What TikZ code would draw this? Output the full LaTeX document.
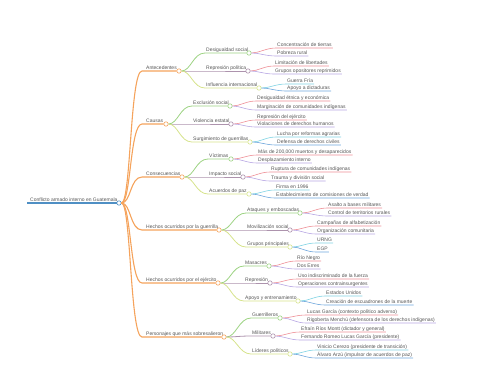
\documentclass[tikz,border=0pt]{standalone}
\usepackage{fontspec}
\setmainfont{Liberation Sans}
\usepackage{tikz}
\usetikzlibrary{positioning}
\definecolor{tgray}{HTML}{555555}
\definecolor{mblue}{HTML}{4f8fc4}
\definecolor{morange}{HTML}{f5a35c}
\definecolor{mgreen}{HTML}{9dd383}
\definecolor{mmauve}{HTML}{ad93ad}
\definecolor{myellow}{HTML}{d6e38c}
\definecolor{mpink}{HTML}{ee8f96}
\definecolor{mlav}{HTML}{b7a6e3}
\definecolor{mcyan}{HTML}{7fd3e3}
\definecolor{mdblue}{HTML}{6ea6dc}

\begin{document}
\begin{tikzpicture}[
  x=1pt, y=-1pt,
  lbl/.style={anchor=south west, inner xsep=1pt, inner ysep=0.5pt,
              text depth=1.2pt, text=tgray, font=\fontsize{5}{6}\selectfont},
  toplbl/.style={lbl, inner xsep=4pt},
  dot/.style={circle, draw=#1, fill=white, line width=0.6pt,
              minimum size=4.4pt, inner sep=0pt},
  lroot/.style={draw=mblue, line width=1.6pt},
  lone/.style={draw=morange, line width=1.1pt},
  ltwo/.style={draw=#1, line width=0.8pt},
  leaf/.style={draw=#1, line width=0.6pt},
]
  \useasboundingbox (0,0) rectangle (480,384);

  % root
  \node[lbl, inner xsep=3pt] (root) at (27,203) {Conflicto armado interno en Guatemala};
  \node[dot=mblue] (rootc) at (119,203) {};
  \draw[lroot] (root.south west) -- (rootc);

  % first level
  \node[toplbl] (ant) at (142,71)  {Antecedentes};
  \node[toplbl] (cau) at (142,124) {Causas};
  \node[toplbl] (con) at (142,177) {Consecuencias};
  \node[toplbl] (gue) at (142,230) {Hechos ocurridos por la guerrilla};
  \node[toplbl] (eje) at (142,283) {Hechos ocurridos por el ejército};
  \node[toplbl] (per) at (142,337) {Personajes que más sobresalieron};
  \node[dot=morange] (antc) at (179,71)  {};
  \node[dot=morange] (cauc) at (166,124) {};
  \node[dot=morange] (conc) at (182,177) {};
  \node[dot=morange] (guec) at (219,230) {};
  \node[dot=morange] (ejec) at (218,283) {};
  \node[dot=morange] (perc) at (224,337) {};
  \foreach \n in {ant,cau,con,gue,eje,per}
    \draw[lone] (rootc) .. controls +(12,0) and +(-12,0) .. (\n.south west) -- (\n c);

  % second level: Antecedentes
  \node[lbl] (ds) at (205,53) {Desigualdad social};
  \node[lbl] (rp) at (205,71) {Represión política};
  \node[lbl] (ii) at (205,88) {Influencia internacional};
  \node[dot=mgreen]  (dsc) at (249,53) {};
  \node[dot=mmauve]  (rpc) at (248,71) {};
  \node[dot=myellow] (iic) at (259,88) {};
  \draw[ltwo=mgreen]  (antc) .. controls +(12,0) and +(-12,0) .. (ds.south west) -- (dsc);
  \draw[ltwo=mmauve]  (antc) -- (rp.south west) -- (rpc);
  \draw[ltwo=myellow] (antc) .. controls +(12,0) and +(-12,0) .. (ii.south west) -- (iic);

  % second level: Causas
  \node[lbl] (es) at (192,106) {Exclusión social};
  \node[lbl] (ve) at (192,124) {Violencia estatal};
  \node[lbl] (sg) at (192,142) {Surgimiento de guerrillas};
  \node[dot=mgreen]  (esc) at (230,106) {};
  \node[dot=mmauve]  (vec) at (231,124) {};
  \node[dot=myellow] (sgc) at (250,142) {};
  \draw[ltwo=mgreen]  (cauc) .. controls +(12,0) and +(-12,0) .. (es.south west) -- (esc);
  \draw[ltwo=mmauve]  (cauc) -- (ve.south west) -- (vec);
  \draw[ltwo=myellow] (cauc) .. controls +(12,0) and +(-12,0) .. (sg.south west) -- (sgc);

  % second level: Consecuencias
  \node[lbl] (vi) at (208,159) {Víctimas};
  \node[lbl] (is) at (208,177) {Impacto social};
  \node[lbl] (ap) at (208,194) {Acuerdos de paz};
  \node[dot=mgreen]  (vic) at (231,159) {};
  \node[dot=mmauve]  (isc) at (243,177) {};
  \node[dot=myellow] (apc) at (249,194) {};
  \draw[ltwo=mgreen]  (conc) .. controls +(12,0) and +(-12,0) .. (vi.south west) -- (vic);
  \draw[ltwo=mmauve]  (conc) -- (is.south west) -- (isc);
  \draw[ltwo=myellow] (conc) .. controls +(12,0) and +(-12,0) .. (ap.south west) -- (apc);

  % second level: guerrilla
  \node[lbl] (ae) at (246,213) {Ataques y emboscadas};
  \node[lbl] (ms) at (246,230) {Movilización social};
  \node[lbl] (gp) at (246,247) {Grupos principales};
  \node[dot=mgreen]  (aec) at (300,213) {};
  \node[dot=mmauve]  (msc) at (290,230) {};
  \node[dot=myellow] (gpc) at (290,247) {};
  \draw[ltwo=mgreen]  (guec) .. controls +(12,0) and +(-12,0) .. (ae.south west) -- (aec);
  \draw[ltwo=mmauve]  (guec) -- (ms.south west) -- (msc);
  \draw[ltwo=myellow] (guec) .. controls +(12,0) and +(-12,0) .. (gp.south west) -- (gpc);

  % second level: ejército
  \node[lbl] (ma) at (244,266) {Masacres};
  \node[lbl] (re) at (244,283) {Represión};
  \node[lbl] (ay) at (244,301) {Apoyo y entrenamiento};
  \node[dot=mgreen]  (mac) at (269,266) {};
  \node[dot=mmauve]  (rec) at (270,283) {};
  \node[dot=myellow] (ayc) at (298,301) {};
  \draw[ltwo=mgreen]  (ejec) .. controls +(12,0) and +(-12,0) .. (ma.south west) -- (mac);
  \draw[ltwo=mmauve]  (ejec) -- (re.south west) -- (rec);
  \draw[ltwo=myellow] (ejec) .. controls +(12,0) and +(-12,0) .. (ay.south west) -- (ayc);

  % second level: personajes
  \node[lbl] (gr) at (251,318) {Guerrilleros};
  \node[lbl] (mi) at (251,336) {Militares};
  \node[lbl] (lp) at (251,354) {Líderes políticos};
  \node[dot=mgreen]  (grc) at (280,318) {};
  \node[dot=mmauve]  (mic) at (273,336) {};
  \node[dot=myellow] (lpc) at (290,354) {};
  \draw[ltwo=mgreen]  (perc) .. controls +(12,0) and +(-12,0) .. (gr.south west) -- (grc);
  \draw[ltwo=mmauve]  (perc) .. controls +(12,0) and +(-12,0) .. (mi.south west) -- (mic);
  \draw[ltwo=myellow] (perc) .. controls +(12,0) and +(-12,0) .. (lp.south west) -- (lpc);

  % leaves
  \node[lbl] (ct)  at (276,48)  {Concentración de tierras};
  \node[lbl] (pr)  at (276,56)  {Pobreza rural};
  \node[lbl] (ll)  at (274,66)  {Limitación de libertades};
  \node[lbl] (go)  at (274,74)  {Grupos opositores reprimidos};
  \node[lbl] (gf)  at (286,84)  {Guerra Fría};
  \node[lbl] (ad)  at (286,91)  {Apoyo a dictaduras};
  \node[lbl] (de)  at (256,101) {Desigualdad étnica y económica};
  \node[lbl] (mc)  at (256,110) {Marginación de comunidades indígenas};
  \node[lbl] (rj)  at (256,120) {Represión del ejército};
  \node[lbl] (vd)  at (256,127) {Violaciones de derechos humanos};
  \node[lbl] (lr)  at (276,137) {Lucha por reformas agrarias};
  \node[lbl] (dd)  at (276,145) {Defensa de derechos civiles};
  \node[lbl] (mm)  at (257,155) {Más de 200,000 muertos y desaparecidos};
  \node[lbl] (di)  at (257,163) {Desplazamiento interno};
  \node[lbl] (rc)  at (270,172) {Ruptura de comunidades indígenas};
  \node[lbl] (td)  at (270,181) {Trauma y división social};
  \node[lbl] (fi)  at (275,190) {Firma en 1996};
  \node[lbl] (ec)  at (275,198) {Establecimiento de comisiones de verdad};
  \node[lbl] (ab)  at (327,208) {Asalto a bases militares};
  \node[lbl] (tr)  at (327,216) {Control de territorios rurales};
  \node[lbl] (ca)  at (316,226) {Campañas de alfabetización};
  \node[lbl] (oc)  at (316,234) {Organización comunitaria};
  \node[lbl] (ur)  at (316,243) {URNG};
  \node[lbl] (eg)  at (316,252) {EGP};
  \node[lbl] (rn)  at (296,261) {Río Negro};
  \node[lbl] (dr)  at (296,269) {Dos Erres};
  \node[lbl] (ui)  at (297,279) {Uso indiscriminado de la fuerza};
  \node[lbl] (oi)  at (297,287) {Operaciones contrainsurgentes};
  \node[lbl] (eu)  at (325,296) {Estados Unidos};
  \node[lbl] (ce)  at (325,305) {Creación de escuadrones de la muerte};
  \node[lbl] (lg)  at (306,315) {Lucas García (contexto político adverso)};
  \node[lbl] (rm)  at (306,323) {Rigoberta Menchú (defensora de los derechos indígenas)};
  \node[lbl] (er)  at (300,332) {Efraín Ríos Montt (dictador y general)};
  \node[lbl] (fr)  at (300,340) {Fernando Romeo Lucas García (presidente)};
  \node[lbl] (vc)  at (316,350) {Vinicio Cerezo (presidente de transición)};
  \node[lbl] (aa)  at (316,358) {Álvaro Arzú (impulsor de acuerdos de paz)};

  \foreach \p/\a/\b in {dsc/ct/pr, rpc/ll/go, esc/de/mc, vec/rj/vd, vic/mm/di,
      isc/rc/td, aec/ab/tr, msc/ca/oc, mac/rn/dr, rec/ui/oi, grc/lg/rm, mic/er/fr} {
    \draw[leaf=mpink] (\p) .. controls +(10,0) and +(-10,0) .. (\a.south west) -- (\a.south east);
    \draw[leaf=mlav]  (\p) .. controls +(10,0) and +(-10,0) .. (\b.south west) -- (\b.south east);
  }
  \foreach \p/\a/\b in {iic/gf/ad, sgc/lr/dd, apc/fi/ec, gpc/ur/eg, ayc/eu/ce, lpc/vc/aa} {
    \draw[leaf=mcyan]  (\p) .. controls +(10,0) and +(-10,0) .. (\a.south west) -- (\a.south east);
    \draw[leaf=mdblue] (\p) .. controls +(10,0) and +(-10,0) .. (\b.south west) -- (\b.south east);
  }
\end{tikzpicture}
\end{document}
